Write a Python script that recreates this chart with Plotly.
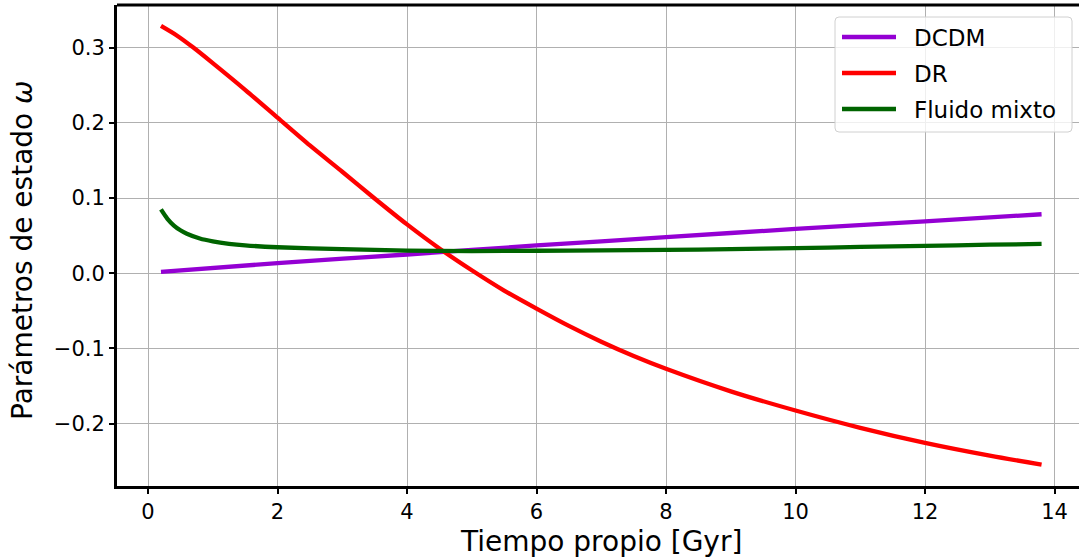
import plotly.graph_objects as go

# Proper time [Gyr] and equation-of-state parameters for each component
t_dcdm = [0.2, 2.0, 4.0, 6.0, 8.0, 10.0, 12.0, 13.8]
w_dcdm = [0.002, 0.0135, 0.025, 0.037, 0.048, 0.059, 0.069, 0.0785]

t_dr = [0.2, 0.45, 0.7, 1.0, 1.5, 2.0, 2.5, 3.0, 3.5, 4.0, 4.5, 5.0, 5.5,
        6.0, 6.5, 7.0, 7.5, 8.0, 9.0, 10.0, 11.0, 12.0, 13.0, 13.8]
w_dr = [0.329, 0.316, 0.3002, 0.2795, 0.244, 0.207, 0.170, 0.135, 0.0995,
        0.065, 0.033, 0.004, -0.023, -0.047, -0.070, -0.091, -0.110, -0.127,
        -0.157, -0.1825, -0.2055, -0.2255, -0.2425, -0.2545]

t_mix = [0.2, 0.3, 0.4, 0.5, 0.6, 0.8, 1.0, 1.25, 1.5, 2.0, 3.0, 4.0, 5.0,
         6.0, 7.0, 8.0, 9.0, 10.0, 11.0, 12.0, 13.0, 13.8]
w_mix = [0.085, 0.0725, 0.0635, 0.0572, 0.0525, 0.0462, 0.0424, 0.0392,
         0.0371, 0.0346, 0.032, 0.0302, 0.0295, 0.030, 0.0305, 0.031, 0.032,
         0.0335, 0.035, 0.0365, 0.038, 0.039]

series_names = ["DCDM", "DR", "Fluido mixto"]
series_colors = ["#9400D3", "#FF0000", "#006400"]

x_ticks = [0, 2, 4, 6, 8, 10, 12, 14]
x_tick_labels = ["0", "2", "4", "6", "8", "10", "12", "14"]
y_ticks = [-0.2, -0.1, 0.0, 0.1, 0.2, 0.3]
y_tick_labels = ["\u22120.2", "\u22120.1", "0.0", "0.1", "0.2", "0.3"]

FONT = "DejaVu Sans"
W, H = 1079, 560
L, R, T, B = 117, 0, 5, 74
PW, PH = W - L - R, H - T - B
LW = 4.3


def px_x(p):
    return (p - L) / PW


def px_y(p):
    return (H - B - p) / PH


fig = go.Figure()
for name, color, xs, ys in zip(series_names, series_colors,
                               [t_dcdm, t_dr, t_mix], [w_dcdm, w_dr, w_mix]):
    fig.add_trace(go.Scatter(x=xs, y=ys, mode="lines", name=name,
                             line=dict(color=color, width=LW, shape="spline",
                                       smoothing=0.8),
                             showlegend=False))

shapes = []
# top spine
shapes.append(dict(type="line", xref="paper", yref="paper", x0=0, x1=1,
                   y0=1, y1=1, line=dict(color="black", width=3)))

# legend frame with rounded corners
bx0, bx1, by0, by1 = 835, 1072, 17, 132
r = 4
x0, x1 = px_x(bx0), px_x(bx1)
y0, y1 = px_y(by1), px_y(by0)
rx, ry = r / PW, r / PH
path = (f"M {x0+rx},{y0} L {x1-rx},{y0} Q {x1},{y0} {x1},{y0+ry} "
        f"L {x1},{y1-ry} Q {x1},{y1} {x1-rx},{y1} L {x0+rx},{y1} "
        f"Q {x0},{y1} {x0},{y1-ry} L {x0},{y0+ry} Q {x0},{y0} {x0+rx},{y0} Z")
shapes.append(dict(type="path", xref="paper", yref="paper", path=path,
                   fillcolor="rgba(255,255,255,0.8)",
                   line=dict(color="#d0d0d0", width=1)))

annotations = []
rows = [37, 73, 109]
for name, color, ry_px in zip(series_names, series_colors, rows):
    shapes.append(dict(type="line", xref="paper", yref="paper",
                       x0=px_x(842), x1=px_x(896), y0=px_y(ry_px), y1=px_y(ry_px),
                       line=dict(color=color, width=LW)))
    annotations.append(dict(xref="paper", yref="paper", x=px_x(912), y=px_y(ry_px + 1),
                            text=name, showarrow=False, xanchor="left",
                            yanchor="middle",
                            font=dict(family=FONT, size=23, color="black")))

# axis titles
annotations.append(dict(xref="paper", yref="paper", x=px_x(601), y=px_y(541),
                        text="Tiempo propio [Gyr]", showarrow=False,
                        xanchor="center", yanchor="middle",
                        font=dict(family=FONT, size=28, color="black")))
annotations.append(dict(xref="paper", yref="paper", x=px_x(22), y=px_y(250),
                        text="Parámetros de estado <i>ω</i>", showarrow=False,
                        textangle=-90, xanchor="center", yanchor="middle",
                        font=dict(family=FONT, size=28, color="black")))

fig.update_layout(
    width=W, height=H,
    margin=dict(l=L, r=R, t=T, b=B),
    paper_bgcolor="white", plot_bgcolor="white",
    font=dict(family=FONT, size=21, color="black"),
    shapes=shapes, annotations=annotations,
    xaxis=dict(range=[-0.479, 14.378], tickvals=x_ticks, ticktext=x_tick_labels,
               showgrid=True, gridcolor="#b0b0b0", gridwidth=1,
               showline=True, linecolor="black", linewidth=3,
               ticks="outside", ticklen=5, tickwidth=1.5, tickcolor="black",
               zeroline=False, tickfont=dict(family=FONT, size=21)),
    yaxis=dict(range=[-0.2829, 0.3568], tickvals=y_ticks, ticktext=y_tick_labels,
               showgrid=True, gridcolor="#b0b0b0", gridwidth=1,
               showline=True, linecolor="black", linewidth=3,
               ticks="outside", ticklen=5, tickwidth=1.5, tickcolor="black",
               zeroline=False, tickfont=dict(family=FONT, size=21)),
)

fig.write_html("out.html")
